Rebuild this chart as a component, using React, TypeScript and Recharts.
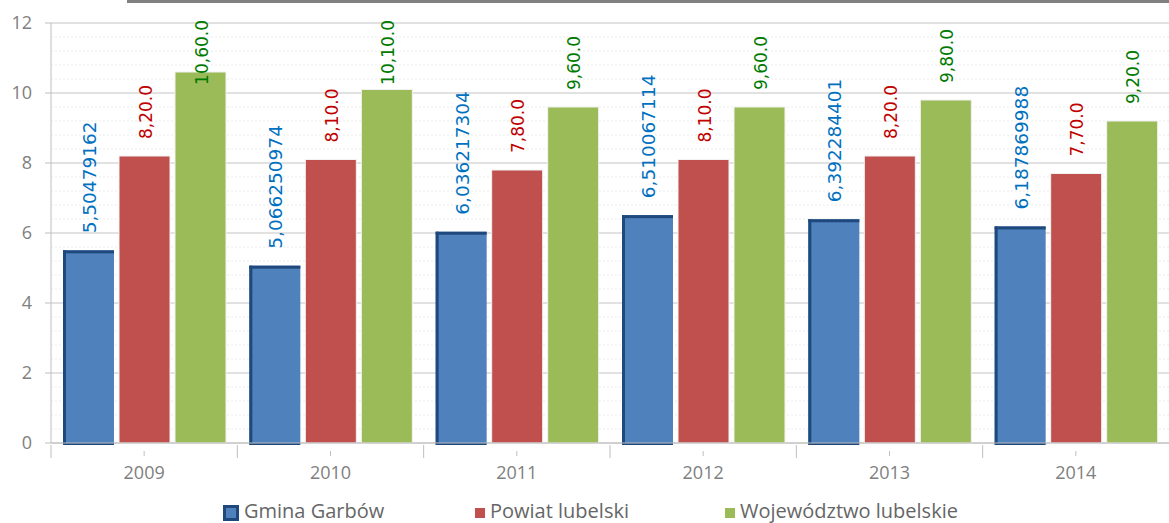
import React from 'react';
import { BarChart, Bar, XAxis, YAxis, CartesianGrid, LabelList } from 'recharts';

// dane z wykresu
const years = ['2009', '2010', '2011', '2012', '2013', '2014'];
const gmina = [5.50479162, 5.066250974, 6.036217304, 6.510067114, 6.392284401, 6.187869988];
const powiat = [8.2, 8.1, 7.8, 8.1, 8.2, 7.7];
const wojewodztwo = [10.6, 10.1, 9.6, 9.6, 9.8, 9.2];

const gminaLabels = ['5,50479162', '5,066250974', '6,036217304', '6,510067114', '6,392284401', '6,187869988'];
const powiatLabels = ['8,20.0', '8,10.0', '7,80.0', '8,10.0', '8,20.0', '7,70.0'];
const wojLabels = ['10,60.0', '10,10.0', '9,60.0', '9,60.0', '9,80.0', '9,20.0'];

const yTicks = [0, 2, 4, 6, 8, 10, 12];
const minorTicks = [0.4, 0.8, 1.2, 1.6, 2.4, 2.8, 3.2, 3.6, 4.4, 4.8, 5.2, 5.6, 6.4, 6.8, 7.2, 7.6, 8.4, 8.8, 9.2, 9.6, 10.4, 10.8, 11.2, 11.6];

const data = years.map((year, i) => ({
  year,
  gmina: gmina[i],
  powiat: powiat[i],
  woj: wojewodztwo[i],
}));

const W = 1169;
const H = 523;
const PLOT_LEFT = 51;
const PLOT_TOP = 23;
const BAND = (W - PLOT_LEFT) / years.length;
const LABEL_FONT = 'DejaVu Sans';
const AXIS_FONT = '"Open Sans", sans-serif';

let ctx: CanvasRenderingContext2D | null = null;
function textWidth(text: string, size: number) {
  if (!ctx) ctx = document.createElement('canvas').getContext('2d');
  if (!ctx) return text.length * size * 0.6;
  ctx.font = `${size}px "${LABEL_FONT}"`;
  return ctx.measureText(text).width;
}

// etykieta obrócona o 90 stopni nad słupkiem, przycięta do górnej krawędzi
function makeLabel(labels: string[], color: string, size: number) {
  return (props: any) => {
    const { x, y, width, index } = props;
    const text = labels[index];
    const cx = Number(x) + Number(width) / 2 + 1;
    const bottom = Number(y) - 17;
    const len = textWidth(text, size);
    const clamp = bottom - len < 20;
    const ty = clamp ? 20 : bottom;
    return (
      <text
        x={cx}
        y={ty}
        transform={`rotate(-90 ${cx} ${ty})`}
        textAnchor={clamp ? 'end' : 'start'}
        dominantBaseline="central"
        fill={color}
        fontSize={size}
        fontFamily={LABEL_FONT}
      >
        {text}
      </text>
    );
  };
}

function GminaBar(props: any) {
  const { x, y, width, height } = props;
  if (!height || height <= 0) return null;
  return (
    <g>
      <rect x={x} y={y} width={width} height={height} fill="#4F81BD" />
      <rect x={x} y={y} width={3} height={height + 2} fill="#1F497D" />
      <rect x={x} y={y} width={width} height={3} fill="#1F497D" />
      <rect x={x} y={y + height} width={width} height={2} fill="#1F497D" />
    </g>
  );
}

function PlainBar(fill: string) {
  return (props: any) => {
    const { x, y, width, height } = props;
    if (!height || height <= 0) return null;
    return <rect x={x} y={y} width={width} height={height} fill={fill} stroke="#f2f2f2" strokeWidth={1} />;
  };
}

function YearTick(props: any) {
  const { x, y, payload } = props;
  const left = x - BAND / 2;
  return (
    <g>
      <line x1={x} y1={y} x2={x} y2={y + 5} stroke="#bfbfbf" />
      <line x1={left} y1={y - 6} x2={left} y2={y + 7} stroke="#bfbfbf" />
      <text x={x} y={y + 28} textAnchor="middle" fill="#808080" fontSize={18} fontFamily={AXIS_FONT}>
        {payload.value}
      </text>
    </g>
  );
}

function LegendBox({ left, color, border, size, label }: any) {
  return (
    <div style={{ position: 'absolute', left, top: 501, height: 20, display: 'flex', alignItems: 'center' }}>
      <span
        style={{
          display: 'inline-block',
          width: size,
          height: size,
          background: color,
          border: border ? `3px solid ${border}` : 'none',
          boxSizing: 'border-box',
          marginRight: 5,
          marginTop: 4,
        }}
      />
      <span style={{ fontFamily: AXIS_FONT, fontSize: 20, lineHeight: '20px', color: '#666666', whiteSpace: 'nowrap' }}>
        {label}
      </span>
    </div>
  );
}

export default function App() {
  return (
    <div style={{ position: 'absolute', left: 0, top: 0, width: W, height: H, background: '#fff', overflow: 'hidden' }}>
      {/* szary pasek po obciętym tytule */}
      <div style={{ position: 'absolute', left: 127, top: 0, right: 0, height: 3, background: '#808080' }} />
      <BarChart
        width={W}
        height={H}
        data={data}
        margin={{ top: PLOT_TOP, right: 0, left: 0, bottom: 40 }}
        barCategoryGap={12}
        barGap={5}
      >
        <CartesianGrid vertical={false} horizontalValues={minorTicks} stroke="#ebebeb" strokeDasharray="2 2" />
        <CartesianGrid vertical={false} horizontalValues={yTicks} stroke="#c4c4c4" />
        <XAxis
          dataKey="year"
          height={40}
          axisLine={{ stroke: '#bfbfbf' }}
          tickLine={false}
          tick={<YearTick />}
          interval={0}
        />
        <YAxis
          width={PLOT_LEFT}
          domain={[0, 12]}
          ticks={yTicks}
          interval={0}
          axisLine={{ stroke: '#bfbfbf' }}
          tickLine={{ stroke: '#bfbfbf' }}
          tickSize={6}
          tickMargin={13}
          tick={{ fill: '#808080', fontSize: 18, fontFamily: AXIS_FONT }}
        />
        <Bar dataKey="gmina" name="Gmina Garbów" fill="#4F81BD" shape={GminaBar} isAnimationActive={false}>
          <LabelList dataKey="gmina" content={makeLabel(gminaLabels, '#0070C0', 18.5)} />
        </Bar>
        <Bar dataKey="powiat" name="Powiat lubelski" fill="#C0504D" shape={PlainBar('#C0504D')} isAnimationActive={false}>
          <LabelList dataKey="powiat" content={makeLabel(powiatLabels, '#C00000', 17)} />
        </Bar>
        <Bar dataKey="woj" name="Województwo lubelskie" fill="#9BBB59" shape={PlainBar('#9BBB59')} isAnimationActive={false}>
          <LabelList dataKey="woj" content={makeLabel(wojLabels, '#007A00', 17)} />
        </Bar>
      </BarChart>
      <LegendBox left={223} color="#4F81BD" border="#1F497D" size={16} label="Gmina Garbów" />
      <LegendBox left={475} color="#C0504D" size={10} label="Powiat lubelski" />
      <LegendBox left={725} color="#9BBB59" size={10} label="Województwo lubelskie" />
    </div>
  );
}
